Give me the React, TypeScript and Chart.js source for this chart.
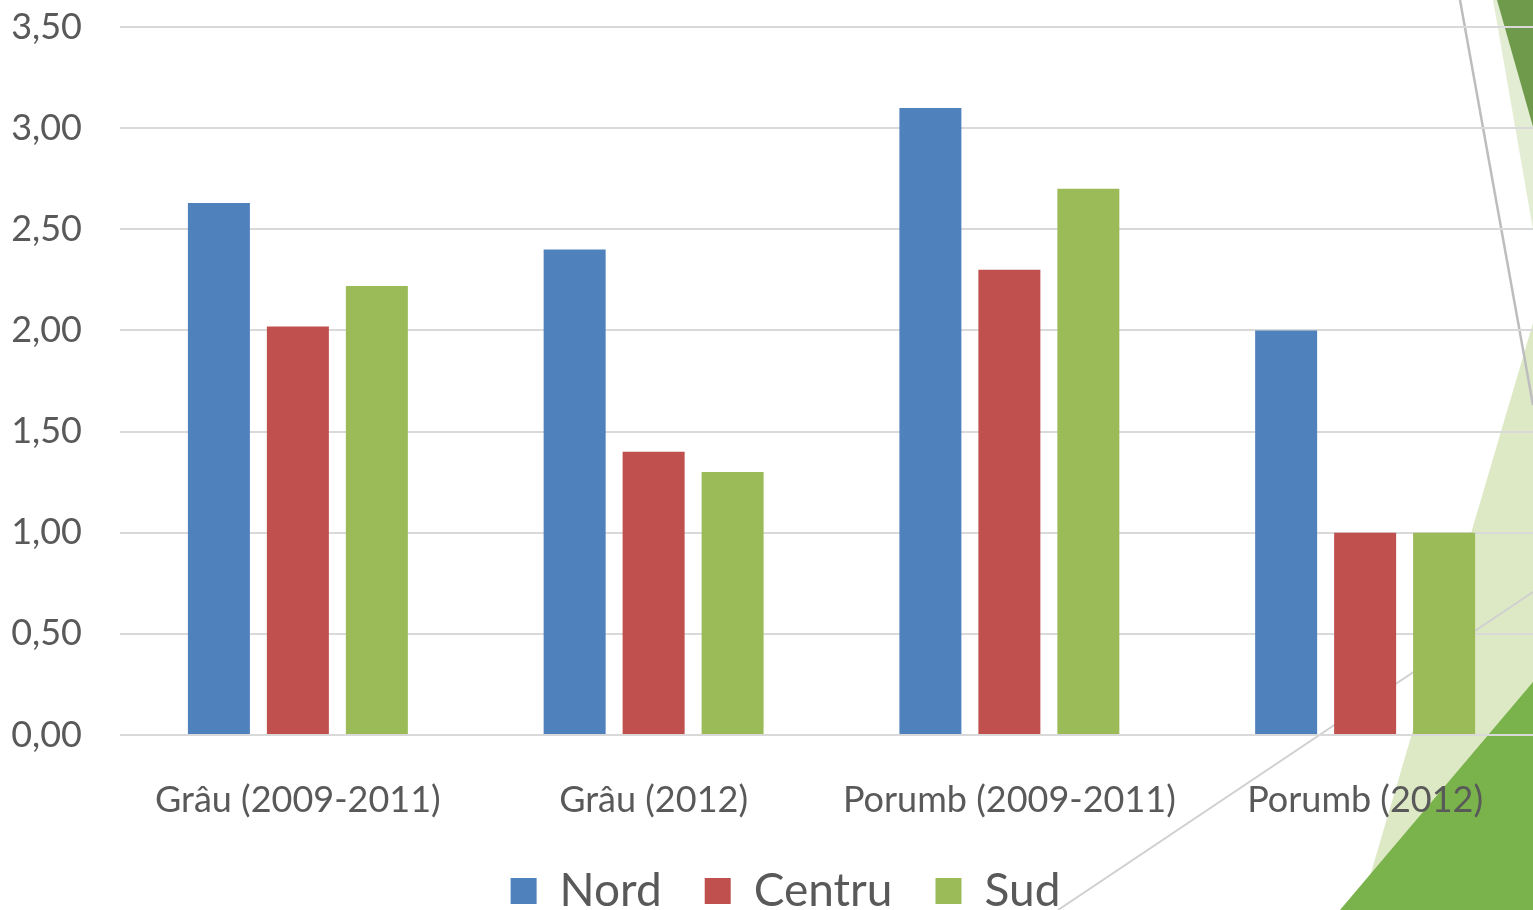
import React, { useEffect, useRef } from "react";
import { Chart, registerables } from "chart.js";

Chart.register(...registerables);

const categories = ["Grâu (2009-2011)", "Grâu (2012)", "Porumb (2009-2011)", "Porumb (2012)"];
const nord = [2.63, 2.4, 3.1, 2.0];
const centru = [2.02, 1.4, 2.3, 1.0];
const sud = [2.22, 1.3, 2.7, 1.0];
const seriesNames = ["Nord", "Centru", "Sud"];
const seriesColors = ["#4f81bd", "#c0504d", "#9bbb59"];
const yMin = 0;
const yMax = 3.5;
const yStep = 0.5;

const FONT = "Lato, 'Open Sans', sans-serif";
const TEXT = "#595959";
const CANVAS_W = 1543;
const CANVAS_H = 910;

const backgroundPlugin = {
  id: "slideBackground",
  beforeDraw(chart: any) {
    const ctx = chart.ctx as CanvasRenderingContext2D;
    ctx.save();
    ctx.fillStyle = "#ffffff";
    ctx.fillRect(0, 0, chart.width, chart.height);
    const poly = (pts: number[][], color: string) => {
      ctx.beginPath();
      ctx.moveTo(pts[0][0], pts[0][1]);
      for (let i = 1; i < pts.length; i++) ctx.lineTo(pts[i][0], pts[i][1]);
      ctx.closePath();
      ctx.fillStyle = color;
      ctx.fill();
    };
    poly([[1493, 0], [1543, 0], [1543, 287]], "#e3edd3");
    poly([[1497, 0], [1543, 0], [1543, 162]], "#6f9a4c");
    poly([[1533, 323], [1360, 910], [1543, 910], [1543, 290]], "#dde9c5");
    poly([[1533, 682], [1340, 910], [1543, 910], [1543, 670]], "#7ab24b");
    ctx.lineWidth = 2.5;
    ctx.strokeStyle = "#bdbdbd";
    ctx.beginPath();
    ctx.moveTo(1460, 0);
    ctx.lineTo(1533, 405);
    ctx.stroke();
    ctx.lineWidth = 2;
    ctx.strokeStyle = "#d0d0d0";
    ctx.beginPath();
    ctx.moveTo(1058, 910);
    ctx.lineTo(1533, 592);
    ctx.stroke();
    ctx.restore();
  },
};

const legendShiftPlugin = {
  id: "legendShift",
  afterLayout(chart: any) {
    const lg = chart.legend;
    if (!lg) return;
    const h = lg.bottom - lg.top;
    lg.left = 38;
    lg.right = 1533;
    lg.width = 1533 - 38;
    lg.top = 825;
    lg.bottom = 825 + h;
  },
};

export default function App() {
  const ref = useRef<HTMLCanvasElement | null>(null);

  useEffect(() => {
    if (!ref.current) return;
    const seriesData = [nord, centru, sud];
    const chart = new Chart(ref.current, {
      type: "bar",
      data: {
        labels: categories,
        datasets: seriesNames.map((name, i) => ({
          label: name,
          data: seriesData[i],
          backgroundColor: seriesColors[i],
          borderWidth: 0,
          categoryPercentage: 0.666,
          barPercentage: 0.785,
        })),
      },
      options: {
        responsive: false,
        animation: false,
        devicePixelRatio: 1,
        layout: { padding: { top: 27, left: 0, right: 0, bottom: 0 } },
        plugins: {
          tooltip: { enabled: false },
          legend: {
            position: "bottom",
            maxHeight: 85,
            labels: {
              boxWidth: 26,
              boxHeight: 26,
              padding: 43,
              color: TEXT,
              font: { family: FONT, size: 46 },
            },
          },
        },
        scales: {
          x: {
            grid: { display: false, drawTicks: false },
            border: { display: false },
            ticks: {
              color: TEXT,
              font: { family: FONT, size: 36 },
              padding: 44,
              maxRotation: 0,
              autoSkip: false,
            },
            afterFit(scale: any) {
              scale.height = 90;
              scale.paddingLeft = 0;
              scale.paddingRight = 0;
            },
          },
          y: {
            min: yMin,
            max: yMax,
            grid: { color: "#d9d9d9", lineWidth: 2, drawTicks: false },
            border: { display: false },
            ticks: {
              stepSize: yStep,
              color: TEXT,
              font: { family: FONT, size: 36 },
              padding: 38,
              callback: (v: any) => Number(v).toFixed(2).replace(".", ","),
            },
            afterFit(scale: any) {
              scale.width = 120;
              scale.paddingTop = 0;
              scale.paddingBottom = 0;
            },
          },
        },
      },
      plugins: [backgroundPlugin, legendShiftPlugin],
    } as any);
    return () => chart.destroy();
  }, []);

  return (
    <div style={{ position: "fixed", left: 0, top: 0, width: 1533, height: 910, overflow: "hidden", background: "#fff" }}>
      <canvas ref={ref} width={CANVAS_W} height={CANVAS_H} style={{ display: "block" }} />
    </div>
  );
}
